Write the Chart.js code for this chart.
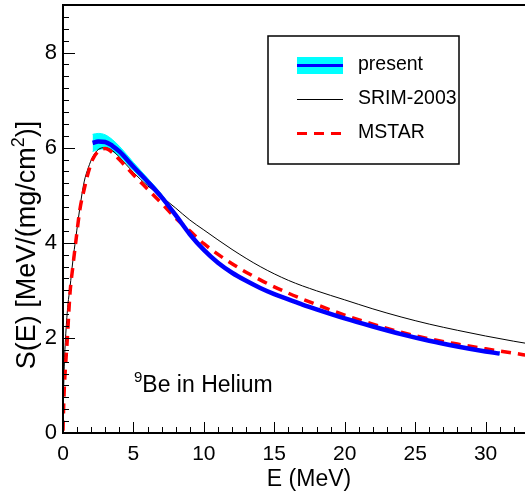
<!DOCTYPE html>
<html>
<head>
<meta charset="utf-8">
<script src="https://cdn.jsdelivr.net/npm/chart.js@4/dist/chart.umd.min.js"></script>
<style>
	html, body { margin: 0; padding: 0; background: #fff; }
	canvas { display: block; }
</style>
</head>
<body>
<canvas id="chart" width="525" height="491"></canvas>
<script>

// ---- data
const presentE = [ 2.1, 2.5, 3, 3.5, 4, 5, 6, 7, 8, 9, 10, 11, 12, 13, 14, 15, 16, 17, 18, 20, 22, 24, 26, 28, 30, 31 ];
const presentS = [ 6.1, 6.13, 6.12, 6.04, 5.92, 5.6, 5.29, 4.96, 4.58, 4.18, 3.85, 3.58, 3.37, 3.2, 3.05, 2.92, 2.81, 2.7, 2.6, 2.41, 2.24, 2.08, 1.94, 1.82, 1.715, 1.67 ];
const presentLow = [ 5.92, 5.96, 5.97, 5.92, 5.82, 5.52, 5.23, 4.91, 4.54, 4.15, 3.83, 3.56, 3.35, 3.18, 3.03, 2.9, 2.79, 2.68, 2.58, 2.39, 2.22, 2.06, 1.92, 1.8, 1.695, 1.65 ];
const presentHigh = [ 6.28, 6.3, 6.27, 6.17, 6.03, 5.69, 5.36, 5.02, 4.62, 4.21, 3.87, 3.6, 3.39, 3.22, 3.07, 2.94, 2.83, 2.72, 2.62, 2.43, 2.26, 2.1, 1.96, 1.84, 1.735, 1.69 ];

const srimE = [ 0.05, 0.1, 0.2, 0.35, 0.5, 0.7, 0.9, 1.2, 1.5, 1.8, 2.1, 2.5, 3, 3.5, 4, 5, 6, 7, 8, 9, 10, 12, 14, 16, 18, 20, 22, 24, 26, 28, 30, 32, 33 ];
const srimS = [ 1.0, 1.5, 2.1, 2.7, 3.07, 3.62, 4.08, 4.74, 5.28, 5.58, 5.8, 5.96, 6.0, 5.94, 5.8, 5.48, 5.2, 4.97, 4.73, 4.48, 4.27, 3.86, 3.5, 3.21, 2.99, 2.8, 2.61, 2.44, 2.29, 2.16, 2.04, 1.93, 1.88 ];

const mstarE = [ 0, 0.04, 0.1, 0.2, 0.3, 0.5, 0.7, 0.9, 1.2, 1.5, 1.8, 2.1, 2.5, 3, 3.5, 4, 5, 6, 7, 8, 9, 10, 12, 14, 16, 18, 20, 22, 24, 26, 28, 30, 32, 33 ];
const mstarS = [ 0.05, 0.5, 1.0, 1.5, 1.95, 2.95, 3.5, 4.0, 4.7, 5.12, 5.48, 5.75, 5.92, 5.98, 5.9, 5.75, 5.43, 5.13, 4.83, 4.52, 4.25, 3.98, 3.56, 3.22, 2.94, 2.7, 2.48, 2.29, 2.12, 1.98, 1.87, 1.77, 1.68, 1.63 ];

const xTickLabels = [ 0, 5, 10, 15, 20, 25, 30 ];
const yTickLabels = [ 0, 2, 4, 6, 8 ];

const legendLabels = [ 'present', 'SRIM-2003', 'MSTAR' ];
const xTitle = 'E (MeV)';
const yTitleParts = [ 'S(E) [MeV/(mg/cm', '2', ')]' ];
const noteParts = [ '9', 'Be in Helium' ];

const FONT = '"Liberation Sans", Arial, Helvetica, sans-serif';

function pts( xs, ys ) {
	return xs.map( ( x, i ) => ( { x, y: ys[ i ] } ) );
}

// draw a run of text pieces, odd pieces as superscript
function drawParts( ctx, parts, x, y, size, align ) {
	const sup = Math.round( size * 0.65 );
	const widths = parts.map( ( p, i ) => {
		ctx.font = ( i % 2 ? sup : size ) + 'px ' + FONT;
		return ctx.measureText( p ).width;
	} );
	const total = widths.reduce( ( a, b ) => a + b, 0 );
	let cx = align === 'center' ? x - total / 2 : x;
	parts.forEach( ( p, i ) => {
		ctx.font = ( i % 2 ? sup : size ) + 'px ' + FONT;
		ctx.fillText( p, cx, i % 2 ? y - size * 0.42 : y );
		cx += widths[ i ];
	} );
}

function drawPartsSupFirst( ctx, parts, x, y, size ) {
	const sup = Math.round( size * 0.65 );
	ctx.font = sup + 'px ' + FONT;
	ctx.fillText( parts[ 0 ], x, y - size * 0.45 );
	const w = ctx.measureText( parts[ 0 ] ).width;
	ctx.font = size + 'px ' + FONT;
	ctx.fillText( parts[ 1 ], x + w, y );
}

// ---- frame, inward ticks, titles, legend, note
const decorations = {
	id: 'decorations',
	afterDraw( chart ) {
		const ctx = chart.ctx;
		const area = chart.chartArea;
		const xs = chart.scales.x;
		const ys = chart.scales.y;

		ctx.save();
		ctx.strokeStyle = '#000';

		// ticks
		ctx.lineWidth = 1;
		ctx.beginPath();
		for ( let v = 1; v <= 32; v++ ) {
			const px = Math.round( xs.getPixelForValue( v ) ) + 0.5;
			const len = v % 5 === 0 ? 11 : 6;
			ctx.moveTo( px, area.bottom );
			ctx.lineTo( px, area.bottom - len );
		}
		for ( let k = 1; k <= 36; k++ ) {
			const v = k * 0.25;
			const py = Math.round( ys.getPixelForValue( v ) ) + 0.5;
			const len = k % 8 === 0 ? 12 : 6;
			ctx.moveTo( area.left, py );
			ctx.lineTo( area.left + len, py );
		}
		ctx.stroke();

		// frame: left, bottom, top
		ctx.lineWidth = 2;
		ctx.beginPath();
		ctx.moveTo( area.right, area.top );
		ctx.lineTo( area.left, area.top );
		ctx.lineTo( area.left, area.bottom );
		ctx.lineTo( area.right, area.bottom );
		ctx.stroke();

		ctx.fillStyle = '#000';
		ctx.textBaseline = 'alphabetic';

		// x title
		ctx.textAlign = 'center';
		ctx.font = '23px ' + FONT;
		ctx.fillText( xTitle, 309, 486 );

		// y title
		ctx.save();
		ctx.translate( 35, 245 );
		ctx.rotate( -Math.PI / 2 );
		ctx.textAlign = 'left';
		drawParts( ctx, yTitleParts, 0, 0, 27, 'center' );
		ctx.restore();

		// note
		ctx.textAlign = 'left';
		drawPartsSupFirst( ctx, noteParts, 134, 392, 23 );

		// legend box
		ctx.fillStyle = '#fff';
		ctx.fillRect( 268, 36, 191, 128 );
		ctx.lineWidth = 1.5;
		ctx.strokeRect( 268, 36, 191, 128 );

		const lx0 = 297;
		const lx1 = 343;
		const rows = [ 65, 99, 133 ];

		ctx.fillStyle = '#00ffff';
		ctx.fillRect( lx0, 57, lx1 - lx0, 17 );
		ctx.strokeStyle = '#0000ff';
		ctx.lineWidth = 3;
		ctx.beginPath();
		ctx.moveTo( lx0, rows[ 0 ] + 0.5 );
		ctx.lineTo( lx1, rows[ 0 ] + 0.5 );
		ctx.stroke();

		ctx.strokeStyle = '#000';
		ctx.lineWidth = 1;
		ctx.beginPath();
		ctx.moveTo( lx0, rows[ 1 ] + 0.5 );
		ctx.lineTo( lx1, rows[ 1 ] + 0.5 );
		ctx.stroke();

		ctx.strokeStyle = '#ff0000';
		ctx.lineWidth = 3;
		ctx.setLineDash( [ 10, 7 ] );
		ctx.beginPath();
		ctx.moveTo( lx0, rows[ 2 ] + 0.5 );
		ctx.lineTo( lx1, rows[ 2 ] + 0.5 );
		ctx.stroke();
		ctx.setLineDash( [] );

		ctx.fillStyle = '#000';
		ctx.font = '19.5px ' + FONT;
		ctx.textBaseline = 'middle';
		legendLabels.forEach( ( t, i ) => {
			ctx.fillText( t, 358, rows[ i ] );
		} );

		ctx.restore();
	}
};

const ctx = document.getElementById( 'chart' ).getContext( '2d' );

new Chart( ctx, {
	type: 'line',
	data: {
		datasets: [
			{
				label: 'present',
				data: pts( presentE, presentS ),
				borderColor: '#0000ff',
				borderWidth: 4.5,
				pointRadius: 0,
				cubicInterpolationMode: 'monotone',
				fill: false,
				order: 0
			},
			{
				label: 'MSTAR',
				data: pts( mstarE, mstarS ),
				borderColor: '#ff0000',
				borderWidth: 3.5,
				borderDash: [ 10, 7 ],
				pointRadius: 0,
				cubicInterpolationMode: 'monotone',
				fill: false,
				order: 1
			},
			{
				label: 'SRIM-2003',
				data: pts( srimE, srimS ),
				borderColor: '#000000',
				borderWidth: 1,
				pointRadius: 0,
				cubicInterpolationMode: 'monotone',
				fill: false,
				order: 2
			},
			{
				label: 'band high',
				data: pts( presentE, presentHigh ),
				borderColor: '#00ffff',
				borderWidth: 1,
				backgroundColor: '#00ffff',
				pointRadius: 0,
				cubicInterpolationMode: 'monotone',
				fill: '+1',
				order: 3
			},
			{
				label: 'band low',
				data: pts( presentE, presentLow ),
				borderColor: '#00ffff',
				borderWidth: 1,
				pointRadius: 0,
				cubicInterpolationMode: 'monotone',
				fill: false,
				order: 4
			}
		]
	},
	options: {
		responsive: false,
		devicePixelRatio: 1,
		animation: false,
		layout: { padding: { top: 5, right: 0, left: 0, bottom: 0 } },
		plugins: {
			legend: { display: false },
			tooltip: { enabled: false }
		},
		scales: {
			x: {
				type: 'linear',
				min: 0,
				max: 32.8,
				grid: { display: false, drawTicks: false },
				border: { display: false },
				afterBuildTicks: ( s ) => {
					s.ticks = xTickLabels.map( ( v ) => ( { value: v } ) );
				},
				afterFit: ( s ) => {
					s.height = 58;
					s.paddingLeft = 0;
					s.paddingRight = 0;
				},
				ticks: {
					color: '#000',
					padding: 9,
					maxRotation: 0,
					font: { family: FONT, size: 21 }
				}
			},
			y: {
				type: 'linear',
				min: 0,
				max: 9,
				grid: { display: false, drawTicks: false },
				border: { display: false },
				afterBuildTicks: ( s ) => {
					s.ticks = yTickLabels.map( ( v ) => ( { value: v } ) );
				},
				afterFit: ( s ) => {
					s.width = 63;
					s.paddingTop = 0;
					s.paddingBottom = 0;
				},
				ticks: {
					color: '#000',
					padding: 6,
					font: { family: FONT, size: 22 }
				}
			}
		}
	},
	plugins: [ decorations ]
} );
</script>
</body>
</html>
